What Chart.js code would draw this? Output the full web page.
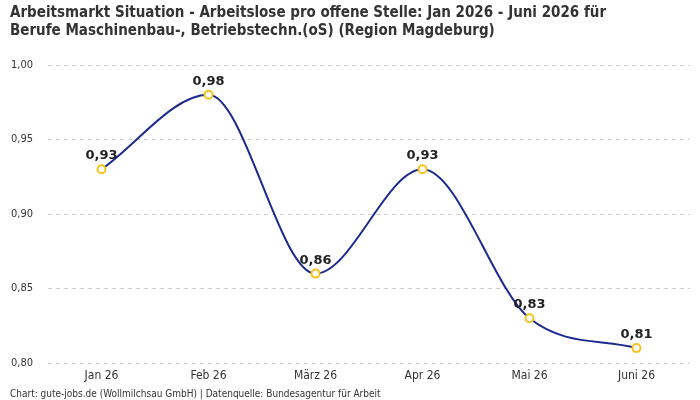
<!DOCTYPE html>
<html>
<head>
<meta charset="utf-8">
<script src="https://cdn.jsdelivr.net/npm/chart.js@4/dist/chart.umd.min.js"></script>
<style>
  html, body { margin: 0; padding: 0; background: #fff; }
  #wrap { width: 700px; height: 400px; position: relative; }
</style>
</head>
<body>
<div id="wrap"><canvas id="chart"></canvas></div>
<script>
// Daten
const months = ["Jan 26", "Feb 26", "März 26", "Apr 26", "Mai 26", "Juni 26"]
const quote = [0.93, 0.98, 0.86, 0.93, 0.83, 0.81]
const yTicks = [0.80, 0.85, 0.90, 0.95, 1.00]

const titleLines = [
  "Arbeitsmarkt Situation - Arbeitslose pro offene Stelle: Jan 2026 - Juni 2026 für",
  "Berufe Maschinenbau-, Betriebstechn.(oS) (Region Magdeburg)"
]
const footer = "Chart: gute-jobs.de (Wollmilchsau GmbH) | Datenquelle: Bundesagentur für Arbeit"

const condensed = "'DejaVu Sans Condensed', 'Liberation Sans Narrow', 'Liberation Sans'"
const fmt = v => v.toFixed(2).replace(".", ",")

// Werte über die Punkte schreiben
const valueLabels = {
  id: "valueLabels",
  afterDatasetsDraw(chart) {
    const ctx = chart.ctx
    const meta = chart.getDatasetMeta(0)
    ctx.save()
    ctx.font = "bold 13px 'DejaVu Sans'"
    ctx.fillStyle = "#222"
    ctx.textAlign = "center"
    ctx.textBaseline = "alphabetic"
    meta.data.forEach((pt, i) => {
      ctx.fillText(fmt(quote[i]), pt.x, pt.y - 10)
    })
    ctx.restore()
  }
}

new Chart(document.getElementById("chart"), {
  type: "line",
  data: {
    labels: months,
    datasets: [{
      data: quote,
      borderColor: "#1b2a8f",
      borderWidth: 2,
      cubicInterpolationMode: "monotone",
      pointRadius: 4,
      pointBorderWidth: 2,
      pointBorderColor: "#f7c21c",
      pointBackgroundColor: "#fff",
      fill: false
    }]
  },
  options: {
    responsive: true,
    maintainAspectRatio: false,
    animation: false,
    layout: { padding: { left: 10, right: 10, top: 0, bottom: 0 } },
    plugins: {
      legend: { display: false },
      tooltip: { enabled: false },
      title: {
        display: true,
        text: titleLines,
        align: "start",
        color: "#333",
        font: { family: condensed, size: 15, weight: "bold", lineHeight: 1.2 },
        padding: { top: 4, bottom: 25 }
      },
      subtitle: {
        display: true,
        text: footer,
        position: "bottom",
        align: "start",
        color: "#333",
        font: { family: condensed, size: 10, lineHeight: 1 },
        padding: { top: 0, bottom: 1 }
      }
    },
    scales: {
      x: {
        offset: true,
        grid: { display: false, drawTicks: false },
        border: { display: false },
        ticks: { color: "#333", font: { family: condensed, size: 12, lineHeight: 1 }, padding: 7 }
      },
      y: {
        min: 0.80,
        max: 1.00,
        afterBuildTicks: axis => { axis.ticks = yTicks.map(v => ({ value: v })) },
        afterFit: axis => { axis.width = 38 },
        grid: { color: "#cfcfcf", drawTicks: false },
        border: { display: false, dash: [4, 4] },
        ticks: {
          color: "#333",
          font: { family: condensed, size: 11 },
          padding: 15,
          callback: v => fmt(v)
        }
      }
    }
  },
  plugins: [valueLabels]
})
</script>
</body>
</html>
